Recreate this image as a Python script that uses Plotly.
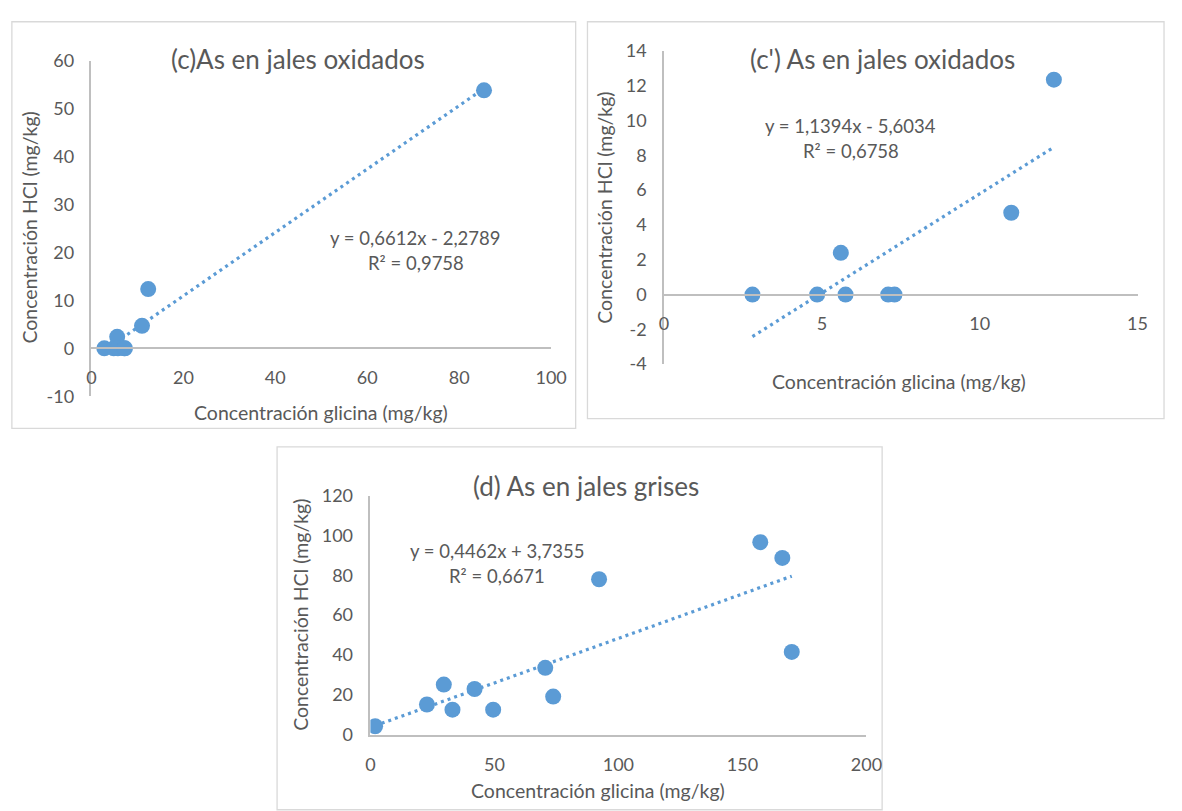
import plotly.graph_objects as go

# --- data -----------------------------------------------------------------
# (c) / (c') As en jales oxidados
glicina_ox = [2.8, 4.85, 5.6, 5.75, 7.1, 7.3, 11.0, 12.35, 85.4]
hcl_ox = [0.0, 0.0, 2.4, 0.0, 0.0, 0.0, 4.7, 12.35, 53.8]
# (c') excludes the high point
glicina_ox2 = glicina_ox[:8]
hcl_ox2 = hcl_ox[:8]
# (d) As en jales grises
glicina_gr = [1.9, 22.8, 29.6, 33.1, 42.0, 49.5, 70.5, 73.7, 92.2, 157.2, 166.1, 169.9]
hcl_gr = [4.3, 15.2, 25.2, 12.6, 23.0, 12.6, 33.6, 19.2, 78.0, 96.6, 88.7, 41.6]

# trend line coefficients (slope, intercept, R²)
fit_c = (0.6612, -2.2789, 0.9758)
fit_c2 = (1.1394, -5.6034, 0.6758)
fit_d = (0.4462, 3.7355, 0.6671)

titles = ["(c)As en jales oxidados", "(c') As en jales oxidados", "(d) As en jales grises"]
xtitle = "Concentración glicina (mg/kg)"
ytitle = "Concentración HCl (mg/kg)"

# --- styling --------------------------------------------------------------
W, H = 1182, 811
BLUE = "#5B9BD5"
TXT = "#595959"
AXIS = "#BFBFBF"
BORDER = "#D9D9D9"
FONT = "Lato"
TICK_SIZE = 18
LABEL_SIZE = 19.5
TITLE_SIZE = 26
EQ_SIZE = 18.5


def px(x):
    return x / W


def py(y):
    return 1 - y / H


def fmt(v):
    return f"{v:.4f}".replace(".", ",")


def eq_text(fit):
    m, b, r2 = fit
    sign = "-" if b < 0 else "+"
    return f"y = {fmt(m)}x {sign} {fmt(abs(b))}", f"R² = {fmt(r2)}"


def ticks(lo, hi, step):
    vals = list(range(lo, hi + 1, step))
    return vals, [str(v) for v in vals]


fig = go.Figure()

panels = [
    dict(x=glicina_ox, y=hcl_ox, fit=fit_c, xa="x", ya="y",
         xdom=(88, 556), ydom=(50, 395), xr=[0, 100], yr=[-10, 60], dx=20, dy=10,
         title=(298, 48), ytl=(25, 222), xtl=(322, 412), eq=(418, 232)),
    dict(x=glicina_ox2, y=hcl_ox2, fit=fit_c2, xa="x2", ya="y2",
         xdom=(671, 1153), ydom=(40, 362), xr=[0, 15], yr=[-4, 14], dx=5, dy=2,
         title=(893, 48), ytl=(610, 201), xtl=(910, 380), eq=(861, 117)),
    dict(x=glicina_gr, y=hcl_gr, fit=fit_d, xa="x3", ya="y3",
         xdom=(372, 877), ydom=(497, 743), xr=[0, 200], yr=[0, 120], dx=50, dy=20,
         title=(591, 487), ytl=(301, 620), xtl=(604, 800), eq=(501, 554)),
]

# panel frames
frames = [(7, 10, 581, 428), (593, 10, 1180, 418), (277, 447, 893, 820)]
shapes = [
    dict(type="rect", xref="paper", yref="paper",
         x0=px(a), x1=px(c), y0=py(d), y1=py(b),
         line=dict(color=BORDER, width=1.3), fillcolor="rgba(0,0,0,0)", layer="below")
    for a, b, c, d in frames
]

annotations = []
layout_axes = {}
for i, p in enumerate(panels):
    m, b, _ = p["fit"]
    xmin, xmax = min(p["x"]), max(p["x"])
    # trend line drawn from the stated equation
    fig.add_trace(go.Scatter(
        x=[xmin, xmax], y=[m * xmin + b, m * xmax + b],
        mode="lines", xaxis=p["xa"], yaxis=p["ya"],
        line=dict(color=BLUE, width=3.2, dash="3px,4px"),
        hoverinfo="skip", showlegend=False))
    fig.add_trace(go.Scatter(
        x=p["x"], y=p["y"], mode="markers", xaxis=p["xa"], yaxis=p["ya"],
        marker=dict(color=BLUE, size=16, line=dict(width=0)),
        showlegend=False))

    suf = "" if i == 0 else str(i + 1)
    y0, y1 = p["yr"]
    yd = (py(p["ydom"][1]), py(p["ydom"][0]))
    xv, xt = ticks(p["xr"][0], p["xr"][1], p["dx"])
    yv, yt = ticks(y0, y1, p["dy"])
    # x axis crosses the vertical axis at y = 0
    xpos = yd[0] + (0 - y0) / (y1 - y0) * (yd[1] - yd[0])
    xaxis = dict(
        domain=[px(p["xdom"][0]), px(p["xdom"][1])], range=p["xr"],
        tickvals=xv, ticktext=xt, showgrid=False, zeroline=False,
        showline=True, linecolor=AXIS, linewidth=1.5, ticks="",
        ticklabelstandoff=13,
        tickfont=dict(family=FONT, size=TICK_SIZE, color=TXT),
    )
    if y0 < 0:
        xaxis.update(anchor="free", position=xpos)
    else:
        xaxis.update(anchor="y" + suf)
    yaxis = dict(
        domain=list(yd), range=p["yr"], tickvals=yv, ticktext=yt,
        showgrid=False, zeroline=False, showline=True, linecolor=AXIS,
        linewidth=1.5, ticks="", anchor="x" + suf, ticklabelstandoff=12,
        tickfont=dict(family=FONT, size=TICK_SIZE, color=TXT),
    )
    layout_axes["xaxis" + suf] = xaxis
    layout_axes["yaxis" + suf] = yaxis

    tx, ty = p["title"]
    annotations.append(dict(text=titles[i], x=px(tx), y=py(ty), xref="paper", yref="paper",
                            showarrow=False, xanchor="center", yanchor="middle",
                            font=dict(family=FONT, size=TITLE_SIZE, color=TXT)))
    ax_, ay_ = p["ytl"]
    annotations.append(dict(text=ytitle, x=px(ax_), y=py(ay_), xref="paper", yref="paper",
                            showarrow=False, textangle=-90, xanchor="center", yanchor="middle",
                            font=dict(family=FONT, size=LABEL_SIZE, color=TXT)))
    bx, by = p["xtl"]
    annotations.append(dict(text=xtitle, x=px(bx), y=py(by), xref="paper", yref="paper",
                            showarrow=False, xanchor="center", yanchor="middle",
                            font=dict(family=FONT, size=LABEL_SIZE, color=TXT)))
    ex, ey = p["eq"]
    l1, l2 = eq_text(p["fit"])
    annotations.append(dict(text=l1, x=px(ex), y=py(ey), xref="paper", yref="paper",
                            showarrow=False, xanchor="center", yanchor="middle",
                            font=dict(family=FONT, size=EQ_SIZE, color=TXT)))
    annotations.append(dict(text=l2, x=px(ex), y=py(ey + 26), xref="paper", yref="paper",
                            showarrow=False, xanchor="center", yanchor="middle",
                            font=dict(family=FONT, size=EQ_SIZE, color=TXT)))

fig.update_layout(
    width=W, height=H, margin=dict(l=0, r=0, t=0, b=0),
    paper_bgcolor="white", plot_bgcolor="rgba(0,0,0,0)",
    shapes=shapes, annotations=annotations, **layout_axes,
)

# the figure fills the page exactly, so drop the default body margin
fig.write_html(
    "out.html",
    config={"displayModeBar": False},
    post_script="document.body.style.margin='0';document.body.style.overflow='hidden';",
)
